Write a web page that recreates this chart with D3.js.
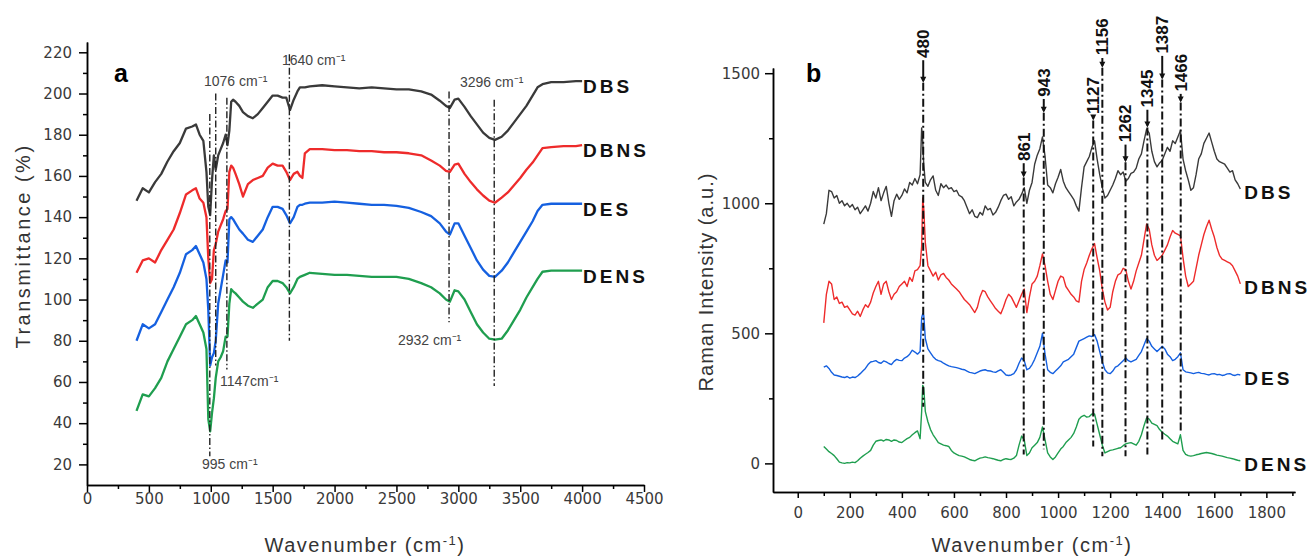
<!DOCTYPE html>
<html>
<head>
<meta charset="utf-8">
<title>FTIR and Raman spectra</title>
<style>
  body { margin: 0; background: #fff; }
  svg { display: block; }
  .tick text { font-family: "DejaVu Sans", sans-serif; font-size: 15px; fill: #3a3a3a; }
  .axis path, .axis line { stroke: #000; stroke-width: 1.5; }
  .title { font-family: "Liberation Sans", Arial, sans-serif; font-size: 20px; fill: #333; }
  .note { font-family: "Liberation Sans", Arial, sans-serif; font-size: 14px; fill: #444; }
  .series-label { font-family: "Liberation Sans", Arial, sans-serif; font-size: 19px; font-weight: bold; letter-spacing: 3px; fill: #111; }
  .peak-label { font-family: "Liberation Sans", Arial, sans-serif; font-size: 17px; font-weight: bold; fill: #111; }
  .panel-letter { font-family: "Liberation Sans", Arial, sans-serif; font-size: 25px; font-weight: bold; fill: #000; }
</style>
</head>
<body>
<svg width="1309" height="558"></svg>
<script src="https://d3js.org/d3.v7.min.js"></script>
<script>
// ---- data: panel a (FTIR) ----
var seriesNames = ["DBS", "DBNS", "DES", "DENS"];
var seriesColors = ["#3a3a3a", "#ee2b2b", "#1560e0", "#1f9e4f"];

var ftirWn = [400,450,500,550,600,650,700,750,800,850,
  880,910,940,965,980,995,1010,1025,1040,1060,
  1080,1100,1120,1135,1150,1165,1180,1200,1230,1260,
  1300,1340,1380,1420,1460,1500,1540,1580,1610,1640,
  1670,1700,1720,1740,1760,1800,1900,2000,2100,2200,
  2300,2400,2500,2600,2700,2780,2850,2900,2932,2970,
  3000,3050,3100,3150,3200,3250,3296,3350,3400,3450,
  3500,3550,3600,3640,3680,3750,3850,3950,4000];

var ftirDBS = [148,154,152,157,161,167,172,176,183,184,
  185,180,177,162,145,141,158,170,163,170,
  173,176,180,175,182,196,197,196,194,191,
  189,188,190,193,196,199,199,198,198,192,
  197,201,203,203,203,203.5,204,203.5,203,202.5,
  203,202.5,202,202,201,199.5,196.5,194,193,197,
  197.5,193.5,189,185,181,178.5,177.5,179,182,186,
  190,194,199,203,204.5,205.5,205.5,206,206];

var ftirDBNS = [113,119,120,118,124,129,134,142,151,153,
  154,149,147,140,120,108,110,124,127,133,
  136,139,143,144,162,165,164,161,156,150,
  156,158,159,160,164,166,165,165,162,158,
  161,162,160,159,171,173,173,172.5,172.5,172,
  172,171.5,171.5,171,170,167.5,165,162.5,162,165.5,
  166,161,157,153.5,150.5,148,147,149.5,152,155.5,
  159,163,166.5,170,173.5,174,174.5,174.5,175];

var ftirDES = [80,88,86,88,94,100,106,113,122,124,
  126,122,118,110,95,68,72,74,80,98,
  105,112,119,118,139,140,139,137,134,132,
  129,128,131,134,140,145,145,144,141,137,
  140,145,146,146,146.5,147,147,147.5,147,146.5,
  146,146,145.5,144.5,142.5,140.5,137,133,131.5,137,
  137,131,125,119,114.5,111.5,111,114,118,123,
  128,133,138,143,146,146.5,146.5,146.5,146.5];

var ftirDENS = [46,54,53,57,62,70,76,82,88,90,
  92,88,84,76,42,36,45,52,62,70,
  72,75,82,82,98,105,104,103,101,99,
  97,96,98,100,106,109,109,108,106,103,
  106,110,111,111.5,112,113,112.5,112,112,111.5,
  111,111,111,110,108,106,103,100,99,104.5,
  104,100,94,88,84,81,80.5,81,85,90,
  95,101,106,110,113.5,114,114,114,114];

var ftirXTicks = [0,500,1000,1500,2000,2500,3000,3500,4000,4500];
var ftirYTicks = [20,40,60,80,100,120,140,160,180,200,220];

// band markers
var ftirMarkText = ["995 cm\u207B\u00B9", "1076 cm\u207B\u00B9", "1147cm\u207B\u00B9", "1640 cm\u207B\u00B9", "2932 cm\u207B\u00B9", "3296 cm\u207B\u00B9"];
var ftirMarkWn = [992, 1040, 1130, 1635, 2925, 3290];
var ftirMarkTop = [190, 200, 198, 219, 201, 197];
var ftirMarkBottom = [24, 68, 66, 80, 89, 58];
var ftirTextWn = [929, 945, 1074, 1575, 2512, 3013];
var ftirTextVal = [17.8, 203.6, 58, 213.8, 77.9, 203.2];

// ---- data: panel b (Raman) ----
var ramanWn = [100,110,120,130,140,150,160,170,180,190,
  200,210,220,230,240,250,260,270,280,290,
  300,310,320,330,340,350,360,370,380,390,
  400,410,420,430,440,450,460,470,476,480,
  484,490,500,510,520,530,540,550,560,570,
  580,590,600,610,620,630,640,650,660,670,
  680,690,700,710,720,730,740,750,760,770,
  780,790,800,810,820,830,840,850,860,870,
  880,890,900,910,920,930,940,950,960,970,
  980,990,1000,1010,1020,1030,1040,1050,1060,1070,
  1080,1090,1100,1110,1120,1130,1140,1150,1160,1170,
  1180,1190,1200,1210,1220,1230,1240,1250,1260,1270,
  1280,1290,1300,1310,1320,1330,1340,1350,1360,1370,
  1380,1390,1400,1410,1420,1430,1440,1450,1460,1470,
  1480,1490,1500,1510,1520,1530,1540,1550,1560,1570,
  1580,1590,1600,1610,1620,1630,1640,1650,1660,1670,
  1680,1690,1700];

var ramanDBS = [920,960,1050,1045,1020,1030,1000,1010,990,1000,
  985,995,975,985,960,975,990,970,1000,1045,
  1020,1060,1010,1040,1065,1000,950,1010,1035,1015,
  1030,1055,1040,1080,1070,1095,1075,1110,1290,1240,
  1150,1080,1065,1090,1105,1050,1030,1075,1060,1070,
  1055,1060,1045,1050,1030,1025,1010,985,960,975,
  950,945,965,955,990,975,980,955,965,985,
  1010,1030,1035,1015,1025,990,1005,1015,1035,1060,
  1000,1050,1080,1150,1185,1210,1255,1180,1070,1060,
  1040,1075,1100,1130,1085,1060,1045,1030,1015,990,
  970,1060,1140,1160,1180,1215,1240,1170,1110,1060,
  1020,1030,1050,1070,1095,1125,1110,1120,1085,1095,
  1115,1120,1135,1170,1190,1240,1285,1270,1200,1160,
  1140,1155,1165,1190,1215,1200,1240,1230,1255,1280,
  1170,1125,1090,1050,1060,1110,1170,1190,1230,1250,
  1270,1235,1200,1170,1160,1155,1150,1135,1120,1125,
  1090,1075,1055];

var ramanDBNS = [540,650,700,690,630,640,615,620,600,605,
  590,575,570,585,565,590,610,600,620,655,
  680,700,650,690,700,660,630,650,660,680,
  690,700,680,715,700,740,745,760,835,1020,
  980,850,760,740,720,735,705,725,730,715,
  705,690,680,670,660,645,630,620,610,595,
  580,600,640,665,660,640,625,610,595,585,
  575,600,630,650,640,620,600,625,650,670,
  580,640,690,700,720,760,805,760,700,650,
  630,665,700,720,715,680,665,650,640,625,
  620,700,745,770,800,825,845,790,740,670,
  620,590,600,660,700,725,730,750,745,700,
  670,700,740,770,800,860,920,900,840,800,
  780,790,800,820,840,870,895,885,880,875,
  790,720,680,690,700,750,800,840,880,910,
  935,900,870,830,800,785,780,775,770,760,
  740,720,690];

var ramanDES = [370,375,365,350,340,338,335,332,330,334,
  328,332,330,336,345,355,365,380,390,392,
  395,388,385,394,390,384,380,392,400,396,
  395,405,410,420,435,428,420,430,560,575,
  570,480,440,425,410,400,395,392,385,380,
  375,372,370,368,365,362,360,355,350,348,
  345,350,355,358,360,356,355,352,350,356,
  360,350,340,338,340,345,360,385,405,395,
  360,365,380,400,425,450,500,420,360,350,
  345,355,365,375,390,395,400,410,420,445,
  470,475,480,485,490,488,495,470,430,390,
  360,348,345,355,370,375,385,395,405,395,
  390,395,400,415,430,455,480,470,450,440,
  430,440,450,440,420,410,395,400,410,425,
  360,352,350,348,345,348,350,346,345,342,
  340,344,345,341,342,338,340,344,345,340,
  338,342,340];

var ramanDENS = [65,55,45,38,30,18,5,2,0,3,
  2,5,3,10,20,28,35,42,50,70,
  85,88,90,86,92,90,85,90,88,82,
  80,88,95,100,110,118,125,95,200,300,
  290,200,160,130,110,95,80,75,70,68,
  65,50,40,35,30,28,25,20,15,12,
  10,15,20,22,25,22,20,18,15,12,
  10,15,18,16,15,20,30,70,105,90,
  30,40,60,70,80,100,140,90,40,25,
  15,25,40,55,65,80,90,100,115,140,
  170,180,185,178,180,190,190,150,110,70,
  40,45,50,52,55,58,60,68,75,78,
  80,75,70,85,110,145,175,170,155,150,
  145,130,120,112,105,95,85,80,75,110,
  50,35,30,28,30,33,35,38,40,42,
  40,38,35,32,30,28,25,22,20,18,
  15,12,10];

var ramanXTicks = [0,200,400,600,800,1000,1200,1400,1600,1800];
var ramanYTicks = [0,500,1000,1500];

var ramanMarkText = ["480","861","943","1127","1156","1262","1345","1387","1466"];
var ramanMarkWn = [482, 868, 945, 1135, 1170, 1259, 1343, 1400, 1471];
var ramanLabelMid = [1613, 1217, 1464, 1414, 1640, 1307, 1441, 1648, 1502];
var ramanArrow = [1471, 1107, 1356, 1326, 1529, 1165, 1299, 1483, 1395];
var ramanLineEnd = [218, 34, 54, 65, 27, 27, 34, 80, 119];

// ---- drawing ----
var svg = d3.select("svg");
var fmt = d3.format("d");

function drawAxes(g, x, y, xMajor, xMinor, yMajor, yMinor, xTickLen, xPad, yTickLen, yPad) {
  var h = y.range()[0];
  var x0 = x.range()[0];
  g.append("g").attr("class", "axis").attr("transform", "translate(0," + h + ")")
    .call(d3.axisBottom(x).tickValues(xMinor).tickSize(4).tickSizeOuter(0).tickFormat(""));
  g.append("g").attr("class", "axis").attr("transform", "translate(0," + h + ")")
    .call(d3.axisBottom(x).tickValues(xMajor).tickSize(xTickLen).tickPadding(xPad).tickSizeOuter(0).tickFormat(fmt));
  g.append("g").attr("class", "axis").attr("transform", "translate(" + x0 + ",0)")
    .call(d3.axisLeft(y).tickValues(yMinor).tickSize(4).tickSizeOuter(0).tickFormat(""));
  g.append("g").attr("class", "axis").attr("transform", "translate(" + x0 + ",0)")
    .call(d3.axisLeft(y).tickValues(yMajor).tickSize(yTickLen).tickPadding(yPad).tickSizeOuter(0).tickFormat(fmt));
}

function addTitle(parent, x, y, rotate, spacing) {
  return parent.append("text").attr("class", "title")
    .attr("text-anchor", "middle")
    .attr("letter-spacing", spacing)
    .attr("transform", "translate(" + x + "," + y + ")" + (rotate ? " rotate(-90)" : ""));
}

function wavenumberTitle(t) {
  t.append("tspan").text("Wavenumber (cm");
  t.append("tspan").attr("baseline-shift", "super").attr("font-size", 13).text("-1");
  t.append("tspan").text(")");
}

// panel a
var xa = d3.scaleLinear().domain([0, 4500]).range([87, 644]);
var ya = d3.scaleLinear().domain([10, 225]).range([485, 42]);
var ga = svg.append("g");

drawAxes(ga, xa, ya, ftirXTicks, d3.range(250, 4500, 500), ftirYTicks, d3.range(30, 225, 20), 7, 1, 8, 7);

var ftirSeries = [ftirDBS, ftirDBNS, ftirDES, ftirDENS];
var lineA = d3.line().x(function (d) { return xa(d[0]); }).y(function (d) { return ya(d[1]); });

ftirSeries.forEach(function (vals, i) {
  var pts = ftirWn.map(function (w, j) { return [w, vals[j]]; });
  ga.append("path").datum(pts)
    .attr("d", lineA)
    .attr("fill", "none")
    .attr("stroke", seriesColors[i])
    .attr("stroke-width", 2.3)
    .attr("stroke-linejoin", "round");
  var last = pts[pts.length - 1];
  ga.append("text").attr("class", "series-label")
    .attr("x", xa(last[0]) + 1)
    .attr("y", ya(last[1]) + 12)
    .text(seriesNames[i]);
});

ftirMarkWn.forEach(function (w, i) {
  ga.append("line")
    .attr("x1", xa(w)).attr("x2", xa(w))
    .attr("y1", ya(ftirMarkTop[i])).attr("y2", ya(ftirMarkBottom[i]))
    .attr("stroke", "#222").attr("stroke-width", 1.4)
    .attr("stroke-dasharray", "7,2.5,1.5,2.5");
  ga.append("text").attr("class", "note")
    .attr("x", xa(ftirTextWn[i])).attr("y", ya(ftirTextVal[i]))
    .text(ftirMarkText[i]);
});

ga.append("text").attr("class", "panel-letter").attr("x", 114).attr("y", 82).text("a");
addTitle(ga, 30, 246, true, 2.5).text("Transmittance (%)");
wavenumberTitle(addTitle(ga, 365, 552, false, 1.5));

// panel b
var xb = d3.scaleLinear().domain([-95, 1910]).range([773, 1295]);
var yb = d3.scaleLinear().domain([-110, 1520]).range([492, 68]);
var gb = svg.append("g");

drawAxes(gb, xb, yb, ramanXTicks, d3.range(100, 1910, 200), ramanYTicks, [250, 750, 1250], 6, 9, 8, 5);

var ramanSeries = [ramanDBS, ramanDBNS, ramanDES, ramanDENS];
var lineB = d3.line().x(function (d) { return xb(d[0]); }).y(function (d) { return yb(d[1]); });

ramanSeries.forEach(function (vals, i) {
  var pts = ramanWn.map(function (w, j) { return [w, vals[j]]; });
  gb.append("path").datum(pts)
    .attr("d", lineB)
    .attr("fill", "none")
    .attr("stroke", seriesColors[i])
    .attr("stroke-width", 1.4)
    .attr("stroke-linejoin", "round");
  var last = pts[pts.length - 1];
  gb.append("text").attr("class", "series-label")
    .attr("x", xb(last[0]) + 4)
    .attr("y", yb(last[1]) + 10)
    .text(seriesNames[i]);
});

ramanMarkWn.forEach(function (w, i) {
  var px = xb(w);
  var mid = yb(ramanLabelMid[i]);
  var half = ramanMarkText[i].length * 4.8;
  var ay = yb(ramanArrow[i]);
  gb.append("text").attr("class", "peak-label")
    .attr("text-anchor", "middle")
    .attr("dy", "0.35em")
    .attr("transform", "translate(" + px + "," + mid + ") rotate(-90)")
    .text(ramanMarkText[i]);
  gb.append("line")
    .attr("x1", px).attr("x2", px)
    .attr("y1", mid + half + 2).attr("y2", ay)
    .attr("stroke", "#111").attr("stroke-width", 2);
  gb.append("path")
    .attr("d", "M" + (px - 3) + "," + (ay - 4) + "L" + (px + 3) + "," + (ay - 4) + "L" + px + "," + (ay + 2) + "Z")
    .attr("fill", "#111");
  gb.append("line")
    .attr("x1", px).attr("x2", px)
    .attr("y1", ay + 2).attr("y2", yb(ramanLineEnd[i]))
    .attr("stroke", "#111").attr("stroke-width", 2)
    .attr("stroke-dasharray", "8,3,2,3");
});

gb.append("text").attr("class", "panel-letter").attr("x", 806).attr("y", 82).text("b");
addTitle(gb, 713, 282, true, 1).text("Raman Intensity (a.u.)");
wavenumberTitle(addTitle(gb, 1032, 552, false, 1.5));
</script>
</body>
</html>
